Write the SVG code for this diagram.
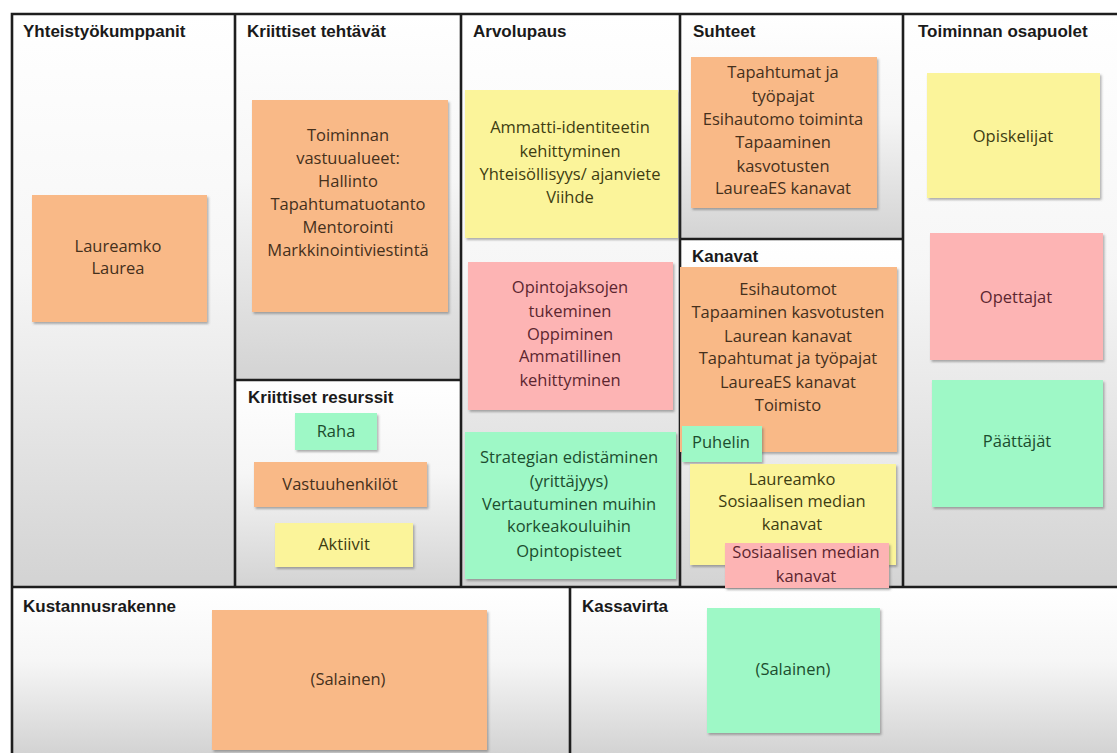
<svg xmlns="http://www.w3.org/2000/svg" width="1117" height="753" viewBox="0 0 1117 753">
<defs>
<linearGradient id="cellg" x1="0" y1="0" x2="0" y2="1">
<stop offset="0" stop-color="#ffffff"/>
<stop offset="0.45" stop-color="#f6f6f6"/>
<stop offset="1" stop-color="#d3d3d3"/>
</linearGradient>
<filter id="sh" x="-5%" y="-5%" width="115%" height="120%">
<feDropShadow dx="1.5" dy="2" stdDeviation="1.2" flood-color="#555" flood-opacity="0.45"/>
</filter>
<style>
.cell{fill:url(#cellg);stroke:none}
.ln{stroke:#1e1e1e;stroke-width:2.6;fill:none}
.ttl{font-family:"Liberation Sans",Arial,sans-serif;font-weight:bold;font-size:17px;fill:#1a1a1a}
.st{filter:url(#sh)}
.or{fill:#f9b987}
.ye{fill:#fbf49a}
.pk{fill:#fdb4b4}
.gr{fill:#9ef8c6}
.tx{font-family:"Open Sans","Noto Sans",sans-serif;font-size:16.5px;text-anchor:middle}
.tor{fill:#45301c}
.tye{fill:#3e3d12}
.tpk{fill:#5c2630}
.tgr{fill:#1c4d2e}
</style>
</defs>
<rect width="1117" height="753" fill="#ffffff"/>
<g id="cells">
<rect class="cell" x="12" y="14" width="223" height="573"/>
<rect class="cell" x="235" y="14" width="226" height="366"/>
<rect class="cell" x="235" y="380" width="226" height="207"/>
<rect class="cell" x="461" y="14" width="219" height="573"/>
<rect class="cell" x="680" y="14" width="223" height="225"/>
<rect class="cell" x="680" y="239" width="223" height="348"/>
<rect class="cell" x="903" y="14" width="214" height="573"/>
<rect class="cell" x="12" y="587" width="558" height="166"/>
<rect class="cell" x="570" y="587" width="547" height="166"/>
</g>
<g id="grid">
<path class="ln" d="M12 753 V14 H1117"/>
<path class="ln" d="M12 587 H1117"/>
<path class="ln" d="M235 14 V587 M461 14 V587 M680 14 V587 M903 14 V587 M570 587 V753"/>
<path class="ln" d="M235 380 H461 M680 239 H903"/>
</g>
<g id="titles">
<text class="ttl" x="23" y="37">Yhteistyökumppanit</text>
<text class="ttl" x="247" y="37">Kriittiset tehtävät</text>
<text class="ttl" x="473" y="37">Arvolupaus</text>
<text class="ttl" x="693" y="37">Suhteet</text>
<text class="ttl" x="918" y="37">Toiminnan osapuolet</text>
<text class="ttl" x="248" y="403">Kriittiset resurssit</text>
<text class="ttl" x="692" y="262">Kanavat</text>
<text class="ttl" x="23" y="612">Kustannusrakenne</text>
<text class="ttl" x="582" y="612">Kassavirta</text>
</g>
<g id="connectors"/>
<g id="n-laureamko">
<rect class="st or" x="32" y="195" width="175" height="127"/>
<text class="tx tor" x="118" y="252">Laureamko</text>
<text class="tx tor" x="118" y="274">Laurea</text>
</g>
<g id="n-toiminnan">
<rect class="st or" x="252" y="100" width="196" height="212"/>
<text class="tx tor" x="348" y="141">Toiminnan</text>
<text class="tx tor" x="348" y="164">vastuualueet:</text>
<text class="tx tor" x="348" y="187">Hallinto</text>
<text class="tx tor" x="348" y="210">Tapahtumatuotanto</text>
<text class="tx tor" x="348" y="233">Mentorointi</text>
<text class="tx tor" x="348" y="256">Markkinointiviestintä</text>
</g>
<g id="n-raha">
<rect class="st gr" x="295" y="413" width="82" height="37"/>
<text class="tx tgr" x="336" y="437">Raha</text>
</g>
<g id="n-vastuuhenkilot">
<rect class="st or" x="254" y="462" width="173" height="45"/>
<text class="tx tor" x="340" y="490">Vastuuhenkilöt</text>
</g>
<g id="n-aktiivit">
<rect class="st ye" x="275" y="523" width="138" height="44"/>
<text class="tx tye" x="344" y="550">Aktiivit</text>
</g>
<g id="n-ammatti">
<rect class="st ye" x="465" y="90" width="213" height="148"/>
<text class="tx tye" x="570" y="133">Ammatti-identiteetin</text>
<text class="tx tye" x="570" y="157">kehittyminen</text>
<text class="tx tye" x="570" y="180">Yhteisöllisyys/ ajanviete</text>
<text class="tx tye" x="570" y="203">Viihde</text>
</g>
<g id="n-opintojaksojen">
<rect class="st pk" x="468" y="262" width="205" height="148"/>
<text class="tx tpk" x="570" y="293">Opintojaksojen</text>
<text class="tx tpk" x="570" y="317">tukeminen</text>
<text class="tx tpk" x="570" y="340">Oppiminen</text>
<text class="tx tpk" x="570" y="362">Ammatillinen</text>
<text class="tx tpk" x="570" y="386">kehittyminen</text>
</g>
<g id="n-strategian">
<rect class="st gr" x="465" y="432" width="211" height="147"/>
<text class="tx tgr" x="569" y="463">Strategian edistäminen</text>
<text class="tx tgr" x="569" y="487">(yrittäjyys)</text>
<text class="tx tgr" x="569" y="510">Vertautuminen muihin</text>
<text class="tx tgr" x="569" y="532">korkeakouluihin</text>
<text class="tx tgr" x="569" y="557">Opintopisteet</text>
</g>
<g id="n-suhteet">
<rect class="st or" x="691" y="57" width="186" height="151"/>
<text class="tx tor" x="783" y="78">Tapahtumat ja</text>
<text class="tx tor" x="783" y="102">työpajat</text>
<text class="tx tor" x="783" y="125">Esihautomo toiminta</text>
<text class="tx tor" x="783" y="148">Tapaaminen</text>
<text class="tx tor" x="783" y="172">kasvotusten</text>
<text class="tx tor" x="783" y="194">LaureaES kanavat</text>
</g>
<g id="n-kanavat">
<rect class="st or" x="680" y="267" width="217" height="185"/>
<text class="tx tor" x="788" y="295">Esihautomot</text>
<text class="tx tor" x="788" y="318">Tapaaminen kasvotusten</text>
<text class="tx tor" x="788" y="342">Laurean kanavat</text>
<text class="tx tor" x="788" y="364">Tapahtumat ja työpajat</text>
<text class="tx tor" x="788" y="388">LaureaES kanavat</text>
<text class="tx tor" x="788" y="411">Toimisto</text>
</g>
<g id="n-puhelin">
<rect class="st gr" x="682" y="426" width="80" height="36"/>
<text class="tx tgr" x="721" y="448">Puhelin</text>
</g>
<g id="n-laureamko-some">
<rect class="st ye" x="690" y="464" width="206" height="101"/>
<text class="tx tye" x="792" y="485">Laureamko</text>
<text class="tx tye" x="792" y="507">Sosiaalisen median</text>
<text class="tx tye" x="792" y="530">kanavat</text>
</g>
<g id="n-some">
<rect class="st pk" x="725" y="543" width="164" height="45"/>
<text class="tx tpk" x="806" y="558">Sosiaalisen median</text>
<text class="tx tpk" x="806" y="582">kanavat</text>
</g>
<g id="n-opiskelijat">
<rect class="st ye" x="927" y="73" width="173" height="125"/>
<text class="tx tye" x="1013" y="142">Opiskelijat</text>
</g>
<g id="n-opettajat">
<rect class="st pk" x="930" y="233" width="173" height="127"/>
<text class="tx tpk" x="1016" y="303">Opettajat</text>
</g>
<g id="n-paattajat">
<rect class="st gr" x="932" y="380" width="171" height="127"/>
<text class="tx tgr" x="1017" y="447">Päättäjät</text>
</g>
<g id="n-kustannus">
<rect class="st or" x="212" y="610" width="275" height="140"/>
<text class="tx tor" x="348" y="685">(Salainen)</text>
</g>
<g id="n-kassavirta">
<rect class="st gr" x="707" y="608" width="173" height="125"/>
<text class="tx tgr" x="793" y="675">(Salainen)</text>
</g>
</svg>
